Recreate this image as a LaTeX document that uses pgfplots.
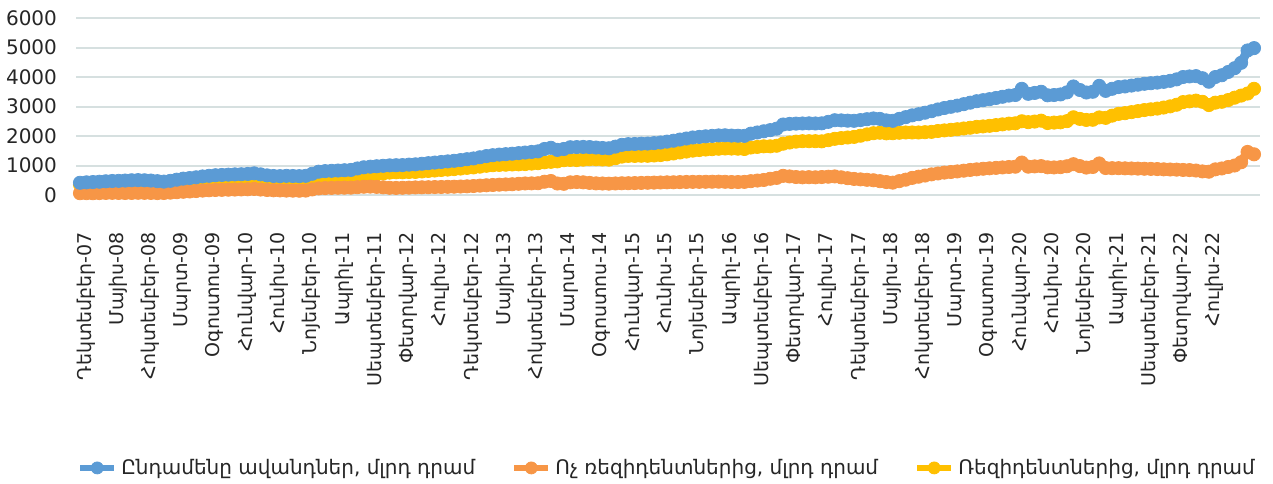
\documentclass[border=0pt]{standalone}
\usepackage{fontspec}
\setmainfont{DejaVu Sans}
\usepackage{pgfplots}
\usepackage{pgfplotstable}
\pgfplotsset{compat=1.18}
\definecolor{cBlue}{HTML}{5B9BD5}
\definecolor{cOrange}{HTML}{F79646}
\definecolor{cYellow}{HTML}{FFC000}
\definecolor{cGrid}{HTML}{D6E0E0}
\pgfplotstableread{
i tot non res
0 415 60 355
1 430 62 368
2 440 60 380
3 450 65 385
4 465 70 395
5 475 72 403
6 480 70 410
7 490 68 422
8 500 70 430
9 505 75 430
10 500 72 428
11 490 70 420
12 470 65 405
13 455 68 387
14 480 80 400
15 520 95 425
16 555 110 445
17 575 120 455
18 600 135 465
19 630 150 480
20 650 160 490
21 670 170 500
22 680 175 505
23 690 180 510
24 700 185 515
25 705 190 515
26 715 195 520
27 735 205 530
28 700 185 515
29 665 170 495
30 645 160 485
31 640 155 485
32 650 150 500
33 645 148 497
34 640 145 495
35 650 150 500
36 720 190 530
37 790 225 565
38 810 235 575
39 820 240 580
40 830 245 585
41 840 248 592
42 850 250 600
43 900 265 635
44 940 280 660
45 960 285 675
46 975 275 700
47 990 260 730
48 1005 245 760
49 1010 240 770
50 1015 245 770
51 1030 250 780
52 1040 258 782
53 1060 262 798
54 1080 265 815
55 1100 270 830
56 1120 272 848
57 1140 278 862
58 1160 282 878
59 1185 288 897
60 1215 295 920
61 1240 305 935
62 1280 318 962
63 1320 330 990
64 1350 340 1010
65 1370 350 1020
66 1385 358 1027
67 1400 365 1035
68 1420 380 1040
69 1440 392 1048
70 1460 395 1065
71 1480 400 1080
72 1560 450 1110
73 1600 475 1125
74 1530 390 1140
75 1560 380 1180
76 1620 430 1190
77 1625 440 1185
78 1630 430 1200
79 1625 410 1215
80 1610 395 1215
81 1595 390 1205
82 1585 385 1200
83 1640 392 1248
84 1700 398 1302
85 1725 400 1325
86 1730 405 1325
87 1740 410 1330
88 1745 415 1330
89 1760 420 1340
90 1780 425 1355
91 1810 430 1380
92 1840 432 1408
93 1880 438 1442
94 1915 442 1473
95 1950 445 1505
96 1970 445 1525
97 1990 448 1542
98 2005 450 1555
99 2020 452 1568
100 2025 448 1577
101 2015 440 1575
102 2010 440 1570
103 2005 445 1560
104 2080 470 1610
105 2120 490 1630
106 2160 510 1650
107 2200 550 1650
108 2250 580 1670
109 2390 650 1740
110 2410 630 1780
111 2420 610 1810
112 2425 600 1825
113 2430 605 1825
114 2425 600 1825
115 2430 610 1820
116 2480 620 1860
117 2535 630 1905
118 2530 600 1930
119 2520 570 1950
120 2515 545 1970
121 2540 530 2010
122 2570 515 2055
123 2595 500 2095
124 2580 470 2110
125 2530 440 2090
126 2515 420 2095
127 2580 470 2110
128 2640 520 2120
129 2700 580 2120
130 2740 620 2120
131 2790 660 2130
132 2840 700 2140
133 2900 730 2170
134 2950 760 2190
135 2990 780 2210
136 3030 800 2230
137 3080 825 2255
138 3130 850 2280
139 3180 870 2310
140 3215 890 2325
141 3250 905 2345
142 3290 920 2370
143 3330 935 2395
144 3370 950 2420
145 3390 960 2430
146 3600 1100 2500
147 3430 960 2470
148 3460 970 2490
149 3500 980 2520
150 3380 940 2440
151 3390 935 2455
152 3410 945 2465
153 3480 975 2505
154 3680 1045 2635
155 3560 980 2580
156 3475 930 2545
157 3500 950 2550
158 3700 1070 2630
159 3530 915 2615
160 3600 910 2690
161 3660 910 2750
162 3680 905 2775
163 3710 900 2810
164 3740 895 2845
165 3770 890 2880
166 3790 885 2905
167 3810 880 2930
168 3835 870 2965
169 3870 865 3005
170 3920 860 3060
171 4000 850 3150
172 4020 845 3175
173 4030 830 3200
174 3960 800 3160
175 3840 790 3050
176 4000 870 3130
177 4060 900 3160
178 4170 950 3220
179 4300 1000 3300
180 4480 1110 3370
181 4900 1460 3440
182 4980 1380 3600
}\data
\begin{document}
\begin{tikzpicture}
\useasboundingbox (-38pt,-144pt) rectangle (598.5pt,97.5pt);
\begin{axis}[
  at={(0,0)}, anchor=south west,
  width=592pt, height=88.5pt, scale only axis,
  xmin=-0.62, xmax=182.93, ymin=0, ymax=6000,
  ytick={0,1000,2000,3000,4000,5000,6000},
  ymajorgrids, grid style={cGrid, line width=1pt},
  axis line style={draw=none},
  major tick length=0pt,
  xtick={0.9,5.9,10.9,15.9,20.9,25.9,30.9,35.9,40.9,45.9,50.9,55.9,60.9,65.9,70.9,75.9,80.9,85.9,90.9,95.9,100.9,105.9,110.9,115.9,120.9,125.9,130.9,135.9,140.9,145.9,150.9,155.9,160.9,165.9,170.9,175.9},
  xticklabels={Դեկտեմբեր-07,Մայիս-08,Հոկտեմբեր-08,Մարտ-09,Օգոստոս-09,Հունվար-10,Հունիս-10,Նոյեմբեր-10,Ապրիլ-11,Սեպտեմբեր-11,Փետրվար-12,Հուլիս-12,Դեկտեմբեր-12,Մայիս-13,Հոկտեմբեր-13,Մարտ-14,Օգոստոս-14,Հունվար-15,Հունիս-15,Նոյեմբեր-15,Ապրիլ-16,Սեպտեմբեր-16,Փետրվար-17,Հուլիս-17,Դեկտեմբեր-17,Մայիս-18,Հոկտեմբեր-18,Մարտ-19,Օգոստոս-19,Հունվար-20,Հունիս-20,Նոյեմբեր-20,Ապրիլ-21,Սեպտեմբեր-21,Փետրվար-22,Հուլիս-22},
  xticklabel style={rotate=90, anchor=east, font=\fontsize{9.5}{11}\selectfont, text=black!85},
  xticklabel shift=15pt,
  yticklabel style={font=\fontsize{10}{12}\selectfont, xshift=-6pt, text=black!85},
  /pgf/number format/assume math mode=true,
  /pgf/number format/1000 sep={},
  scaled y ticks=false,
  legend style={at={(0.5,-1.542)}, anchor=center, draw=none,
    font=\fontsize{10}{12}\selectfont, text=black!85,
    /tikz/every even column/.append style={column sep=16pt}},
  legend columns=3,
  legend cell align=left,
]
\addlegendimage{cBlue, line width=3pt, mark=*, mark size=3pt, mark options={line width=0.4pt}}
\addlegendentry{Ընդամենը ավանդներ, մլրդ դրամ}
\addlegendimage{cOrange, line width=3pt, mark=*, mark size=3pt, mark options={line width=0.4pt}}
\addlegendentry{Ոչ ռեզիդենտներից, մլրդ դրամ}
\addlegendimage{cYellow, line width=3pt, mark=*, mark size=3pt, mark options={line width=0.4pt}}
\addlegendentry{Ռեզիդենտներից, մլրդ դրամ}
\addplot[forget plot, cYellow, line width=4.5pt, mark=*, mark size=3.3pt, mark options={line width=0.4pt}] table[x=i, y=res] {\data};
\addplot[forget plot, cOrange, line width=4.5pt, mark=*, mark size=3.3pt, mark options={line width=0.4pt}] table[x=i, y=non] {\data};
\addplot[forget plot, cBlue, line width=4.5pt, mark=*, mark size=3.3pt, mark options={line width=0.4pt}] table[x=i, y=tot] {\data};
\end{axis}
\end{tikzpicture}
\end{document}
